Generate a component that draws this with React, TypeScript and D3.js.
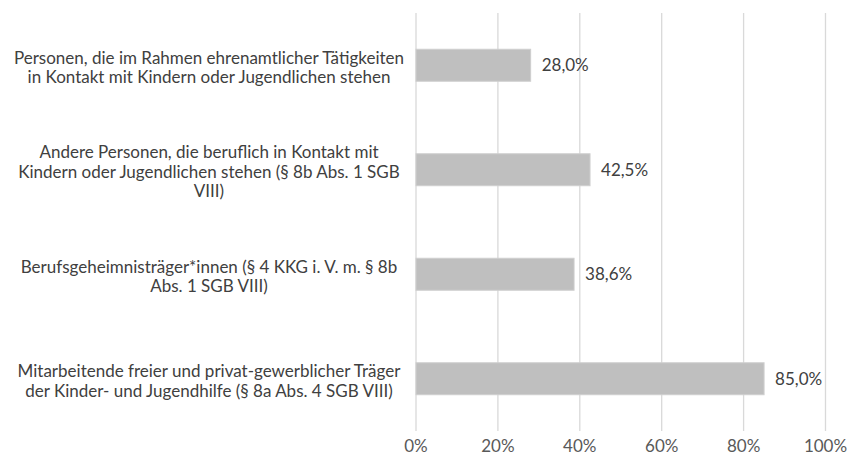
import React from "react";
import * as d3 from "d3";

// categories, top to bottom, already split into lines as in the source chart
const categories = [
  "Personen, die im Rahmen ehrenamtlicher Tätigkeiten|in Kontakt mit Kindern oder Jugendlichen stehen",
  "Andere Personen, die beruflich in Kontakt mit|Kindern oder Jugendlichen stehen (§ 8b Abs. 1 SGB|VIII)",
  "Berufsgeheimnisträger*innen (§ 4 KKG i. V. m. § 8b|Abs. 1 SGB VIII)",
  "Mitarbeitende freier und privat-gewerblicher Träger|der Kinder- und Jugendhilfe (§ 8a Abs. 4 SGB VIII)",
];
const values = [28.0, 42.5, 38.6, 85.0];
const ticks = [0, 20, 40, 60, 80, 100];

const width = 848;
const height = 457;
const margin = { top: 13, right: 22, bottom: 26, left: 416 };

const de = d3.formatLocale({
  decimal: ",",
  thousands: ".",
  grouping: [3],
  currency: ["", " €"],
});
const fmt = de.format(".1f");

const App = () => {
  const x = d3
    .scaleLinear()
    .domain([0, 100])
    .range([margin.left, width - margin.right - 0.5]);

  const y = d3
    .scaleBand()
    .domain(categories)
    .range([margin.top, height - margin.bottom])
    .paddingInner(0.694)
    .paddingOuter(0.347);

  const font = "Lato, 'Open Sans', sans-serif";
  const fs = 17;
  const lineH = 19.5;

  return (
    <svg
      width={width}
      height={height}
      style={{ position: "absolute", left: 0, top: 0, background: "#fff" }}
      fontFamily={font}
    >
      {/* grid */}
      {ticks.map((t) => (
        <line
          key={"g" + t}
          x1={x(t)}
          x2={x(t)}
          y1={margin.top}
          y2={height - margin.bottom}
          stroke="#d9d9d9"
          strokeWidth={1.3}
        />
      ))}

      {/* tick labels */}
      {ticks.map((t) => (
        <text
          key={"t" + t}
          x={x(t)}
          y={452}
          textAnchor="middle"
          fontSize={fs}
          fill="#595959"
        >
          {t + "%"}
        </text>
      ))}

      {/* bars */}
      {categories.map((c, i) => (
        <g key={c}>
          <rect
            x={x(0)}
            y={y(c)}
            width={x(values[i]) - x(0)}
            height={y.bandwidth()}
            fill="#bfbfbf"
            stroke="#cfcfcf"
            strokeWidth={1}
          />
          <text
            x={x(values[i]) + 11}
            y={(y(c) as number) + y.bandwidth() / 2 + 6}
            fontSize={fs}
            fill="#404040"
          >
            {fmt(values[i]) + "%"}
          </text>
        </g>
      ))}

      {/* category labels */}
      {categories.map((c) => {
        const lines = c.split("|");
        const mid = (y(c) as number) + y.bandwidth() / 2 + 2;
        const first = mid - ((lines.length - 1) * lineH) / 2;
        return (
          <text
            key={"l" + c}
            x={209}
            textAnchor="middle"
            fontSize={fs}
            fill="#404040"
          >
            {lines.map((ln, j) => (
              <tspan key={j} x={209} y={first + j * lineH + 6}>
                {ln}
              </tspan>
            ))}
          </text>
        );
      })}
    </svg>
  );
};

export default App;
